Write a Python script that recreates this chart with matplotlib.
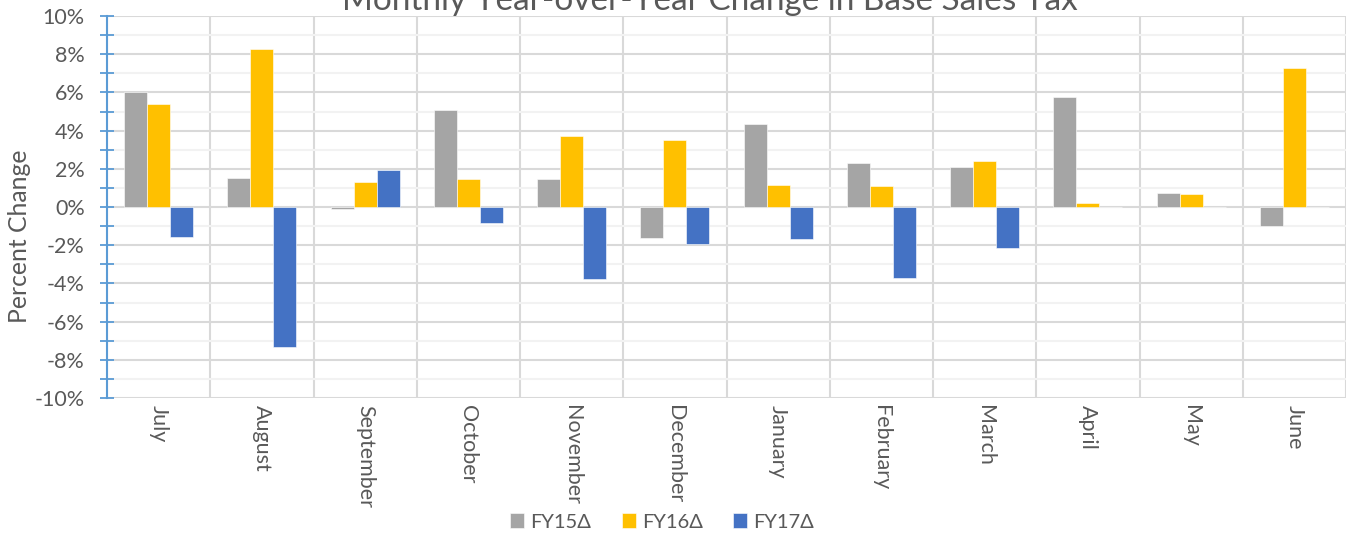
import matplotlib
matplotlib.use("Agg")
import matplotlib.pyplot as plt
from matplotlib.ticker import MultipleLocator, FuncFormatter
import numpy as np

plt.rcParams['font.family'] = ['Lato', 'DejaVu Sans']

# data (percent change)
months = ['July', 'August', 'September', 'October', 'November', 'December',
          'January', 'February', 'March', 'April', 'May', 'June']
fy15 = [6.0, 1.52, -0.1, 5.08, 1.47, -1.62, 4.35, 2.30, 2.09, 5.76, 0.73, -1.0]
fy16 = [5.39, 8.27, 1.31, 1.47, 3.72, 3.51, 1.15, 1.10, 2.41, 0.2, 0.70, 7.26]
fy17 = [-1.57, -7.33, 1.94, -0.84, -3.77, -1.94, -1.68, -3.72, -2.15, 0, 0, 0]
series = ['FY15Δ', 'FY16Δ', 'FY17Δ']
colors = ['#a5a5a5', '#ffc000', '#4472c4']

fig = plt.figure(figsize=(13.48, 5.35), dpi=100)
ax = fig.add_axes([107 / 1348, 1 - 398 / 535, 1239 / 1348, 382 / 535])

x = np.arange(len(months))
w = 0.223
for i, (vals, name, c) in enumerate(zip([fy15, fy16, fy17], series, colors)):
    ax.bar(x + (i - 1) * w, vals, w, color=c, label=name, zorder=3,
           edgecolor='white', linewidth=0.4)

ax.set_xlim(-0.5, len(months) - 0.5)
ax.set_ylim(-10, 10)

# gridlines
ax.yaxis.set_major_locator(MultipleLocator(2))
ax.yaxis.set_minor_locator(MultipleLocator(1))
ax.grid(axis='y', which='major', color='#d9d9d9', linewidth=1.5, zorder=0)
ax.grid(axis='y', which='minor', color='#f2f2f2', linewidth=1.5, zorder=0)
ax.set_xticks(x)
ax.set_xticks(np.arange(-0.5, len(months)), minor=True)
ax.grid(axis='x', which='minor', color='#d9d9d9', linewidth=1.5, zorder=0)
ax.tick_params(axis='x', which='both', length=0)
ax.set_xticklabels(months, rotation=-90, fontsize=15.5, color='#595959')
ax.tick_params(axis='x', pad=5)

ax.yaxis.set_major_formatter(FuncFormatter(lambda v, p: f'{v:.0f}%'))
ax.tick_params(axis='y', which='major', direction='inout', length=10, width=1.3,
               color='#5b9bd5', labelsize=15.5, labelcolor='#595959', pad=11)
ax.tick_params(axis='y', which='minor', direction='inout', length=10, width=1.3,
               color='#5b9bd5')

for s in ['top', 'right', 'bottom']:
    ax.spines[s].set_visible(False)
ax.spines['left'].set_color('#5b9bd5')
ax.spines['left'].set_linewidth(1.5)
ax.spines['left'].set_zorder(4)

ax.set_ylabel('Percent Change', fontsize=17.8, color='#595959')
ax.yaxis.set_label_coords(-0.061, 0.424)

fig.text(710 / 1348, 1 - 10 / 535, 'Monthly Year-over-Year Change in Base Sales Tax',
         ha='center', va='baseline', fontsize=24, color='#595959')

ax.legend(loc='center', bbox_to_anchor=(662 / 1348, 1 - 522 / 535),
          bbox_transform=fig.transFigure, ncol=3, frameon=False, fontsize=14.5,
          handlelength=0.7, handleheight=0.7, handletextpad=0.3, columnspacing=1.5,
          labelcolor='#595959')

fig.savefig('out.png', dpi=100)
